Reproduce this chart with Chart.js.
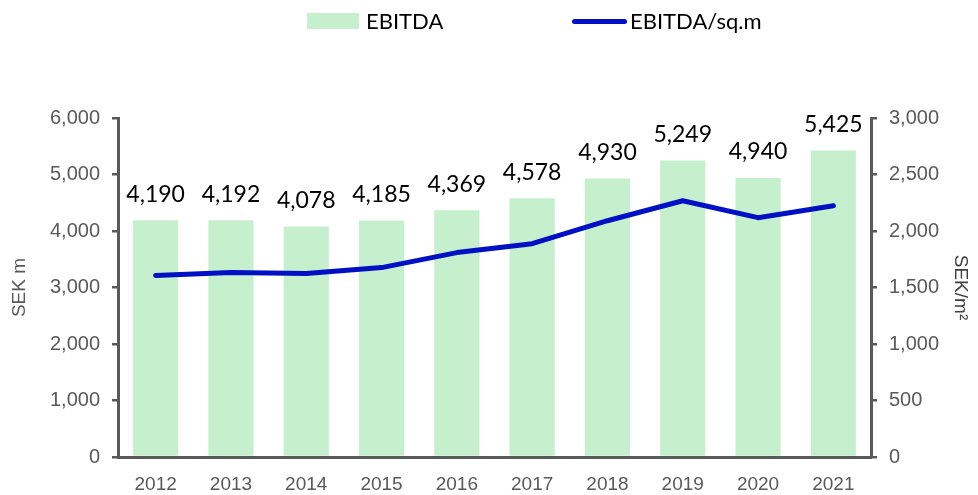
<!DOCTYPE html>
<html>
<head>
<meta charset="utf-8">
<script src="https://cdn.jsdelivr.net/npm/chart.js@4"></script>
<style>
  body { margin: 0; background: #fff; }
  #wrap { position: relative; width: 978px; height: 495px; }
  .lg { position: absolute; font-family: Lato, sans-serif; font-size: 22px; color: #000; line-height: 22px; }
  .sw { position: absolute; }
</style>
</head>
<body>
<div id="wrap">
  <canvas id="ebitdaChart" width="978" height="495"></canvas>
  <!-- legend -->
  <div class="sw" style="left:307px;top:13px;width:52px;height:16px;background:#C6EFCE"></div>
  <div class="lg" style="left:366px;top:10px">EBITDA</div>
  <div class="sw" style="left:572px;top:19px;width:55px;height:5px;border-radius:3px;background:#0010C4"></div>
  <div class="lg" style="left:630px;top:10px">EBITDA/sq.m</div>
</div>
<script>
// Chart data
const years = ['2012', '2013', '2014', '2015', '2016', '2017', '2018', '2019', '2020', '2021'];
const ebitda = [4190, 4192, 4078, 4185, 4369, 4578, 4930, 5249, 4940, 5425];
const ebitdaPerSqm = [1606, 1632, 1624, 1676, 1809, 1888, 2091, 2268, 2118, 2224];

const axisGrey = '#595959';
const fmt = v => v.toLocaleString('en-US');

// value labels above bars
const barLabels = {
    id: 'barLabels',
    afterDatasetsDraw(chart) {
        const ctx = chart.ctx;
        const meta = chart.getDatasetMeta(1); // bar dataset
        ctx.save();
        ctx.font = '23px Lato';
        ctx.fillStyle = '#000';
        ctx.textAlign = 'center';
        ctx.textBaseline = 'middle';
        meta.data.forEach((bar, i) => {
            ctx.fillText(fmt(ebitda[i]), bar.x, bar.y - 26);
        });
        ctx.restore();
    }
};

new Chart(document.getElementById('ebitdaChart').getContext('2d'), {
    data: {
        labels: years,
        datasets: [
            {
                type: 'line', label: 'EBITDA/sq.m', data: ebitdaPerSqm, yAxisID: 'y1',
                borderColor: '#0010C4', borderWidth: 5, pointRadius: 0, tension: 0,
                borderCapStyle: 'round', borderJoinStyle: 'round', order: 0
            },
            {
                type: 'bar', label: 'EBITDA', data: ebitda, yAxisID: 'y',
                backgroundColor: '#C6EFCE', barPercentage: 0.6, categoryPercentage: 1, order: 1
            }
        ]
    },
    options: {
        responsive: false,
        animation: false,
        layout: { padding: { top: 118, left: 0, right: 0, bottom: 0 } },
        plugins: { legend: { display: false }, tooltip: { enabled: false } },
        scales: {
            x: {
                grid: { display: false },
                border: { display: true, color: axisGrey, width: 3 },
                ticks: { color: axisGrey, padding: 8, font: { family: "'Liberation Sans Narrow', 'Liberation Sans'", size: 19 } },
                afterFit(s) { s.height = 38; }
            },
            y: {
                position: 'left', min: 0, max: 6000,
                ticks: { stepSize: 1000, color: axisGrey, padding: 12, callback: v => fmt(v),
                         font: { family: "'Liberation Sans'", size: 20 } },
                grid: { drawOnChartArea: false, drawTicks: true, tickLength: 6, color: axisGrey, lineWidth: 2.5 },
                border: { display: true, color: axisGrey, width: 3 },
                title: { display: true, text: 'SEK m', color: axisGrey, padding: { top: 8, bottom: 0 },
                         font: { family: "'Liberation Sans'", size: 19 } },
                afterFit(s) { s.width = 118; }
            },
            y1: {
                position: 'right', min: 0, max: 3000,
                ticks: { stepSize: 500, color: axisGrey, padding: 12, callback: v => fmt(v),
                         font: { family: "'Liberation Sans'", size: 20 } },
                grid: { drawOnChartArea: false, drawTicks: true, tickLength: 6, color: axisGrey, lineWidth: 2.5 },
                border: { display: true, color: axisGrey, width: 3 },
                title: { display: true, text: 'SEK/m²', color: '#404040', padding: { top: 6, bottom: 0 },
                         font: { family: "'Liberation Sans'", size: 19 } },
                afterFit(s) { s.width = 107; }
            }
        }
    },
    plugins: [barLabels]
});
</script>
</body>
</html>
